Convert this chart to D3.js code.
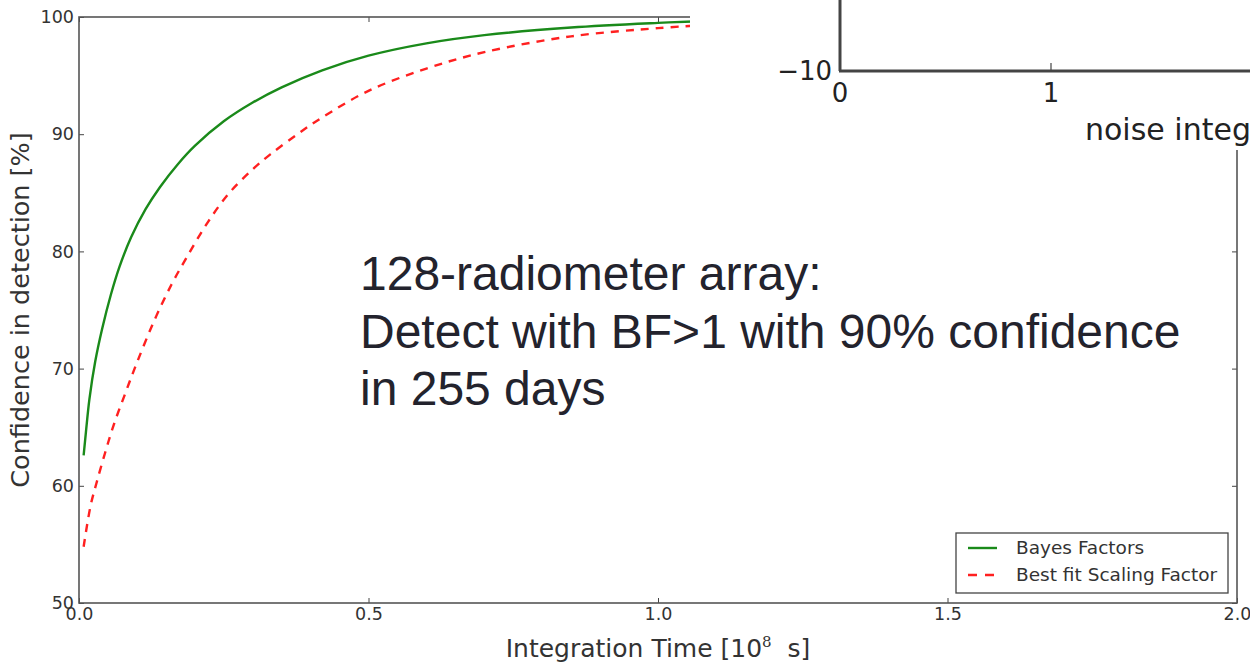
<!DOCTYPE html>
<html>
<head>
<meta charset="utf-8">
<style>
    body { margin: 0; background: #fff; }
    svg { display: block; }
    .axis text { font-family: "DejaVu Sans", sans-serif; font-size: 17.5px; fill: #333; }
    .axis line { stroke: #444; stroke-width: 1; }
    .axis .domain { display: none; }
</style>
</head>
<body>
<svg width="1250" height="663"></svg>
<script src="https://d3js.org/d3.v7.min.js"></script>
<script>
// values (x in 10^8 s, y in %)
const bayesX = [0.008, 0.012, 0.018, 0.028, 0.04, 0.055, 0.07, 0.09, 0.115, 0.14, 0.17, 0.2, 0.25, 0.3, 0.35, 0.42, 0.5, 0.6, 0.7, 0.85, 1.0, 1.06];
const bayesY = [62.6, 64.6, 67.4, 70.6, 73.4, 76.3, 78.7, 81.2, 83.6, 85.5, 87.4, 89.0, 91.1, 92.7, 94.0, 95.45, 96.7, 97.75, 98.45, 99.1, 99.5, 99.62];

const fitX = [0.008, 0.02, 0.03, 0.045, 0.06, 0.08, 0.1, 0.13, 0.16, 0.185, 0.22, 0.258, 0.3, 0.331, 0.38, 0.419, 0.5, 0.6, 0.7, 0.85, 1.0, 1.06];
const fitY = [54.8, 58.3, 60.2, 62.8, 65.2, 67.9, 70.5, 74.1, 77.2, 79.4, 82.3, 84.9, 87.0, 88.3, 90.1, 91.4, 93.7, 95.6, 97.0, 98.35, 99.05, 99.25];

const xTicks = [0.0, 0.5, 1.0, 1.5, 2.0];
const yTicks = [50, 60, 70, 80, 90, 100];

const seriesNames = ["Bayes Factors", "Best fit Scaling Factor"];
const noteLines = ["128-radiometer array:", "Detect with BF>1 with 90% confidence", "in 255 days"];

const svg = d3.select("svg");

let margin = { top: 17, right: 13, bottom: 60, left: 79 };
let width = 1250, height = 663;

let x = d3.scaleLinear().domain([0, 2]).range([margin.left, width - margin.right]);
let y = d3.scaleLinear().domain([50, 100]).range([height - margin.bottom, margin.top]);

// matplotlib style inward ticks on all four sides
svg.append("g").attr("class", "x axis")
    .attr("transform", `translate(0,${y(50)})`)
    .call(d3.axisBottom(x).tickValues(xTicks).tickFormat(d3.format(".1f")).tickSize(-5).tickPadding(5));
svg.append("g").attr("class", "x axis top")
    .attr("transform", `translate(0,${y(100)})`)
    .call(d3.axisTop(x).tickValues(xTicks).tickFormat("").tickSize(-5));
svg.append("g").attr("class", "y axis")
    .attr("transform", `translate(${x(0)},0)`)
    .call(d3.axisLeft(y).tickValues(yTicks).tickFormat(d3.format("d")).tickSize(-5).tickPadding(5));
svg.append("g").attr("class", "y axis right")
    .attr("transform", `translate(${x(2)},0)`)
    .call(d3.axisRight(y).tickValues(yTicks).tickFormat("").tickSize(-5));

// frame
svg.append("rect")
    .attr("x", x(0)).attr("y", y(100))
    .attr("width", x(2) - x(0)).attr("height", y(50) - y(100))
    .style("fill", "none").style("stroke", "#555").style("stroke-width", 1.6);

let line = d3.line().curve(d3.curveCatmullRom.alpha(0.5))
    .x(d => x(d[0])).y(d => y(d[1]));

svg.append("path")
    .datum(d3.zip(bayesX, bayesY))
    .attr("d", line)
    .style("fill", "none").style("stroke", "#1a8a1a").style("stroke-width", 2.4);

svg.append("path")
    .datum(d3.zip(fitX, fitY))
    .attr("d", line)
    .style("fill", "none").style("stroke", "#ff2020").style("stroke-width", 2.4)
    .style("stroke-dasharray", "8,7");

// axis labels
svg.append("text")
    .attr("x", (x(0) + x(2)) / 2).attr("y", 657)
    .attr("text-anchor", "middle")
    .style("font-family", "DejaVu Sans, sans-serif").style("font-size", "25px").style("fill", "#333")
    .style("white-space", "pre")
    .html('Integration Time [10<tspan dy="-10" font-size="15" font-family="DejaVu Serif, serif">8</tspan><tspan dy="10">  s]</tspan>');

svg.append("text")
    .attr("transform", `translate(29,${(y(50) + y(100)) / 2}) rotate(-90)`)
    .attr("text-anchor", "middle")
    .style("font-family", "DejaVu Sans, sans-serif").style("font-size", "25.5px").style("fill", "#333")
    .text("Confidence in detection [%]");

// legend
let lg = svg.append("g").attr("transform", "translate(956,533)");
lg.append("rect").attr("width", 272).attr("height", 60)
    .style("fill", "#fff").style("stroke", "#444").style("stroke-width", 1.3);
lg.append("line").attr("x1", 12).attr("x2", 41).attr("y1", 15).attr("y2", 15)
    .style("stroke", "#1a8a1a").style("stroke-width", 2.4);
lg.append("line").attr("x1", 12).attr("x2", 41).attr("y1", 42).attr("y2", 42)
    .style("stroke", "#ff2020").style("stroke-width", 2.4).style("stroke-dasharray", "9,8");
lg.selectAll(".lt").data(seriesNames).join("text")
    .attr("class", "lt")
    .attr("x", 60).attr("y", (d, i) => 15 + i * 27).attr("dy", "0.35em")
    .style("font-family", "DejaVu Sans, sans-serif").style("font-size", "18.5px").style("fill", "#333")
    .text(d => d);

// pasted second plot covering the top right corner
let ov = svg.append("g");
ov.append("rect").attr("x", 690).attr("y", 0).attr("width", 560).attr("height", 150).style("fill", "#fff");
ov.append("line").attr("x1", 840).attr("x2", 840).attr("y1", 0).attr("y2", 71)
    .style("stroke", "#444").style("stroke-width", 3);
ov.append("line").attr("x1", 839).attr("x2", 1250).attr("y1", 71).attr("y2", 71)
    .style("stroke", "#444").style("stroke-width", 3);
ov.append("line").attr("x1", 1051).attr("x2", 1051).attr("y1", 71).attr("y2", 63)
    .style("stroke", "#444").style("stroke-width", 1.2);
ov.selectAll(".ovt").data([
    { t: "\u221210", x: 832, y: 80, a: "end", s: 26 },
    { t: "0", x: 840, y: 102, a: "middle", s: 26 },
    { t: "1", x: 1051, y: 102, a: "middle", s: 26 },
    { t: "noise integ", x: 1085, y: 140, a: "start", s: 30 }
]).join("text")
    .attr("x", d => d.x).attr("y", d => d.y).attr("text-anchor", d => d.a)
    .style("font-family", "DejaVu Sans, sans-serif").style("font-size", d => d.s + "px").style("fill", "#222")
    .text(d => d.t);

// annotation text
svg.selectAll(".note").data(noteLines).join("text")
    .attr("class", "note")
    .attr("x", 360).attr("y", (d, i) => 290 + i * 57.5)
    .style("font-family", "Liberation Sans, Arial, sans-serif").style("font-size", "48px").style("fill", "#23232d")
    .text(d => d);
</script>
</body>
</html>
